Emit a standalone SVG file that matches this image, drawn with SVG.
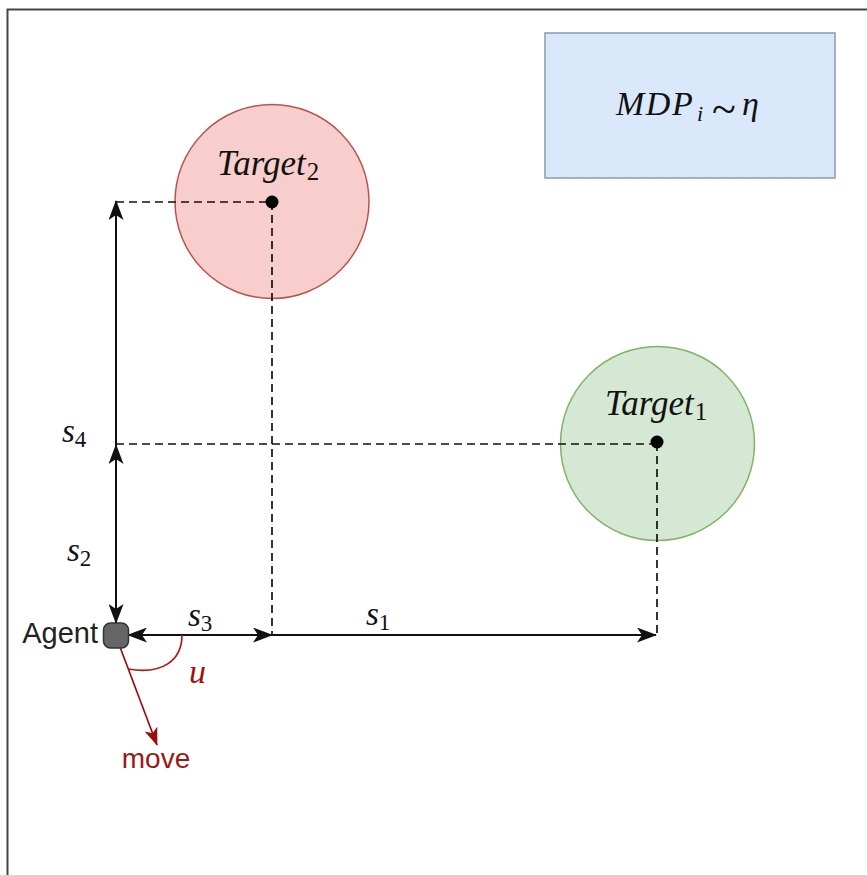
<svg xmlns="http://www.w3.org/2000/svg" width="867" height="875" viewBox="0 0 867 875">
  <style>
    .math { font-family: "Liberation Serif", "DejaVu Serif", serif; font-style: italic; fill: #111; }
    .up { font-style: normal; }
    .sans { font-family: "Liberation Sans", Arial, sans-serif; }
    .axis { stroke: #111; stroke-width: 2; fill: none; }
    .guide { stroke: #111; stroke-width: 1.7; stroke-dasharray: 8 5; fill: none; }
  </style>
  <defs>
    <marker id="arr" viewBox="0 0 20 15" refX="19" refY="7.5" markerWidth="20" markerHeight="15" markerUnits="userSpaceOnUse" orient="auto-start-reverse">
      <path d="M0,0 L20,7.5 L0,15 L5,7.5 z" fill="#111"/>
    </marker>
    <marker id="arrRed" viewBox="0 0 20 15" refX="19" refY="7.5" markerWidth="18" markerHeight="14" markerUnits="userSpaceOnUse" orient="auto">
      <path d="M0,0 L20,7.5 L0,15 L5,7.5 z" fill="#9a1010"/>
    </marker>
  </defs>

  <rect width="867" height="875" fill="#ffffff"/>
  <!-- frame -->
  <path d="M7.5,880 L7.5,9.5 L870,9.5" fill="none" stroke="#444" stroke-width="2"/>

  <!-- distribution box -->
  <g id="mdp">
    <rect x="545" y="33" width="290" height="145" fill="#dae8fc" stroke="#8a9aac" stroke-width="1.5"/>
    <text class="math" x="616" y="115" font-size="34" letter-spacing="1.5">MDP</text>
    <text class="math" x="697" y="121" font-size="22">i</text>
    <text class="math up" x="712" y="124" font-size="44">~</text>
    <text class="math" x="742" y="115" font-size="34">η</text>
  </g>

  <!-- targets -->
  <g id="target2">
    <circle cx="272" cy="201.5" r="97" fill="#f8cecc" stroke="#b85450" stroke-width="1.5"/>
    <text class="math" x="217" y="175" font-size="35">Target<tspan class="up" font-size="25" dy="5" dx="1">2</tspan></text>
  </g>
  <g id="target1">
    <circle cx="657.5" cy="443.5" r="97" fill="#d5e8d4" stroke="#82b366" stroke-width="1.5"/>
    <text class="math" x="605" y="415" font-size="35">Target<tspan class="up" font-size="25" dy="5" dx="1">1</tspan></text>
  </g>

  <!-- connectors -->
  <g id="connectors">
    <path class="guide" d="M116,202 L272,202"/>
    <path class="guide" d="M116,444 L657,444"/>
    <path class="guide" d="M272,202 L272,635"/>
    <path class="guide" d="M657,443 L657,635"/>
    <path class="axis" d="M116,623 L116,445" marker-start="url(#arr)" marker-end="url(#arr)"/>
    <path class="axis" d="M116,445 L116,201" marker-end="url(#arr)"/>
    <path class="axis" d="M128,635 L272,635" marker-start="url(#arr)" marker-end="url(#arr)"/>
    <path class="axis" d="M272,635 L656,635" marker-end="url(#arr)"/>
    <path d="M120,647 L157,745" stroke="#9a1010" stroke-width="1.7" fill="none" marker-end="url(#arrRed)"/>
    <path d="M182,635 C182,660 163,675 128,669" stroke="#b01818" stroke-width="1.7" fill="none"/>
  </g>

  <!-- dots -->
  <circle cx="272" cy="202" r="6.5" fill="#000"/>
  <circle cx="657" cy="442" r="6.5" fill="#000"/>

  <!-- agent -->
  <g id="agent">
    <rect x="103.5" y="623" width="25" height="25" rx="7" fill="#666" stroke="#333" stroke-width="1.5"/>
    <text class="sans" x="98" y="643" font-size="29" text-anchor="end" fill="#222">Agent</text>
  </g>

  <!-- labels -->
  <text class="math" x="62" y="442" font-size="33">s<tspan class="up" font-size="23" dy="5">4</tspan></text>
  <text class="math" x="67" y="561" font-size="33">s<tspan class="up" font-size="23" dy="5">2</tspan></text>
  <text class="math" x="188" y="626" font-size="33">s<tspan class="up" font-size="23" dy="5">3</tspan></text>
  <text class="math" x="366" y="625" font-size="33">s<tspan class="up" font-size="23" dy="5">1</tspan></text>
  <text class="math" x="189" y="683" font-size="34" style="fill:#a01010">u</text>
  <text class="sans" x="156" y="768" font-size="28" text-anchor="middle" fill="#9a1a1a">move</text>
</svg>
